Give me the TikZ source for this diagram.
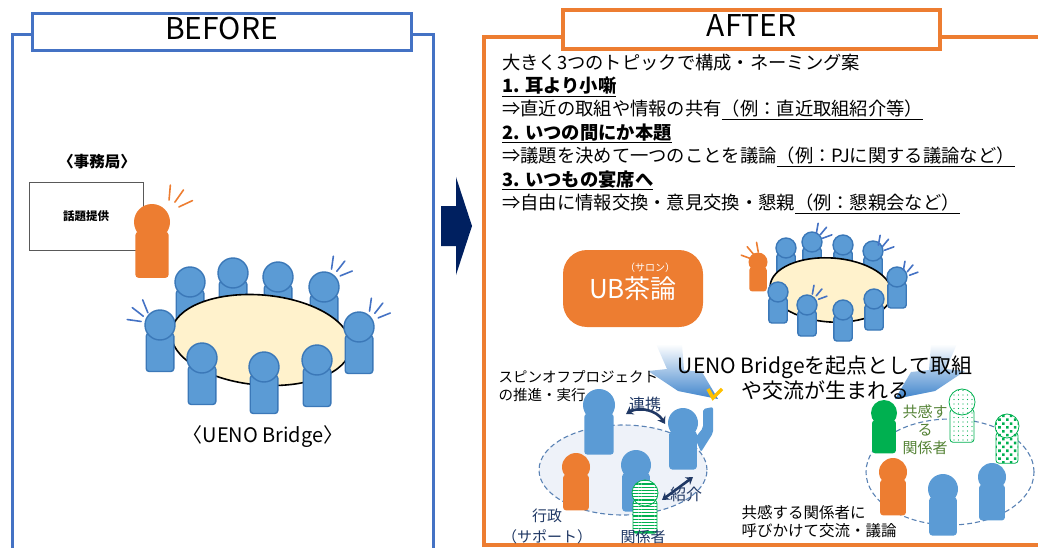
\documentclass[tikz,border=0pt]{standalone}
\usepackage{fontspec}
\setmainfont{Noto Sans CJK JP}
\usetikzlibrary{positioning,arrows.meta,shapes.geometric,calc,patterns.meta}
\definecolor{aoWaku}{HTML}{4472C4}
\definecolor{daidai}{HTML}{ED7D31}
\definecolor{hitoAo}{HTML}{5B9BD5}
\definecolor{hitoAoSen}{HTML}{3B78B8}
\definecolor{takuIro}{HTML}{FFF2CC}
\definecolor{kon}{HTML}{002060}
\definecolor{konMoji}{HTML}{203864}
\definecolor{midori}{HTML}{00B050}
\definecolor{koke}{HTML}{548235}
\definecolor{nezumi}{HTML}{595959}
\definecolor{wakuUsu}{HTML}{EEF2F9}
\definecolor{hasen}{HTML}{5A82B4}
\definecolor{kiiro}{HTML}{FFC000}
\definecolor{inazuma}{HTML}{3F84CC}
\newcommand{\moji}[2]{\fontsize{#1}{#2}\selectfont}
% person: head centre x, y and head radius
\newcommand{\hito}[4][pblue]{%
  \path[#1, rounded corners=3pt] ({#2-0.92*#4},{#3+0.55*#4}) rectangle ({#2+0.92*#4},{#3+3.1*#4});
  \path[#1] (#2,#3) circle[radius=#4];}
% three short strokes: centre x, y, mid angle, inner and outer radius
\newcommand{\kira}[6][kblue]{%
  \foreach \t in {-30,0,30}
    \draw[#1] ($(#2,#3)+({-(#4+\t)}:#5)$) -- ($(#2,#3)+({-(#4+\t)}:#6)$);}

\begin{document}
\begin{tikzpicture}[x=1pt, y=-1pt,
    mado/.style={draw, fill=white, line width=3pt, minimum height=37pt, text height=22pt,
                 text depth=7pt, font=\moji{30}{30}},
    pblue/.style={fill=hitoAo, draw=hitoAoSen, line width=1.4pt},
    pflat/.style={fill=hitoAo},
    porange/.style={fill=daidai},
    pgreen/.style={fill=midori},
    pstripe/.style={fill=white, draw=midori, line width=0.8pt,
                    postaction={pattern={Lines[angle=0,distance=3.2pt,line width=1.2pt]}, pattern color=midori}},
    pdots/.style={fill=white, draw=midori, line width=0.8pt,
                  postaction={pattern={Dots[radius=0.55pt,distance=4.5pt]}, pattern color=midori}},
    pdiam/.style={fill=white, draw=midori, line width=0.8pt,
                  postaction={pattern={Dots[radius=1.8pt,distance=5.5pt,angle=45]}, pattern color=midori}},
    kblue/.style={draw=aoWaku, line width=1.6pt, line cap=round},
    korange/.style={draw=daidai, line width=1.6pt, line cap=round},
    taku/.style={ellipse, draw, fill=takuIro, line width=1.6pt},
    list/.style={anchor=north west, inner xsep=2pt, inner ysep=2pt, text height=15pt,
                 text depth=4pt, font=\moji{18.3}{22}},
    ubbox/.style={fill=daidai, rounded corners=24pt, minimum width=140pt, minimum height=77pt,
                  text=white, font=\moji{26}{26}},
    bolt/.style={top color=white, bottom color=inazuma},
    grp/.style={ellipse, draw=hasen, line width=1.1pt, dash pattern=on 5pt off 3pt},
    tie/.style={text=konMoji, font=\moji{16}{16}},
    tiearrow/.style={draw=konMoji, line width=2.6pt,
                     {Stealth[length=7pt,width=9pt]}-{Stealth[length=7pt,width=9pt]}}]
  \useasboundingbox (0,0) rectangle (1038,548);

  % BEFORE panel
  \draw[aoWaku, line width=3pt] (12,552) -- (12,35) -- (32,35);
  \draw[aoWaku, line width=3pt] (411,35) -- (433,35) -- (433,552);
  \node[mado, draw=aoWaku, minimum width=379pt] (before) at (221.5,32.5) {BEFORE};

  % AFTER panel
  \draw[daidai, line width=3.5pt] (563,37) -- (484,37) -- (484,545) -- (1042,545);
  \draw[daidai, line width=3.5pt] (940,37) -- (1042,37);
  \node[mado, draw=daidai, line width=3.5pt, minimum width=377pt, minimum height=39pt] (after)
    at (751.5,29.5) {AFTER};

  \fill[kon] (441,206) -- (456,206) -- (456,177) -- (472,226) -- (456,275) -- (456,246)
    -- (441,246) -- cycle;

  % secretariat and the round table
  \node[font=\moji{15.5}{18}\bfseries] (jimu) at (97,162) {〈事務局〉};
  \node[draw=nezumi, line width=1pt, minimum width=114pt, minimum height=67pt,
        font=\moji{11.5}{14}\bfseries] (wadai) at (86,216.5) {話題提供};
  \hito[porange]{152}{222}{18}
  \kira[korange]{168}{212}{55}{12}{27}
  \foreach \x/\y in {190/282, 233/273, 278/277, 324/287} \hito{\x}{\y}{15};
  \node[taku, minimum width=180pt, minimum height=90pt, rotate=-5] (taku1) at (261,340) {};
  \foreach \x/\y in {160/325, 359/327, 202/358, 264/367, 317/360} \hito{\x}{\y}{15};
  \kira{152}{323}{142}{11}{25}
  \kira{330}{280}{52}{11}{24}
  \kira{368}{322}{52}{11}{24}
  \node[font=\moji{20}{20}] (ub1) at (263,437) {〈UENO Bridge〉};

  % three topics
  \node[list] (l0) at (500,52) {大きく3つのトピックで構成・ネーミング案};
  \node[list, below=0pt of l0.south west, anchor=north west] (l1) {\textbf{\underline{1. 耳より小噺}}};
  \node[list, below=0pt of l1.south west, anchor=north west] (l2) {⇒直近の取組や情報の共有\underline{（例：直近取組紹介等）}};
  \node[list, below=0pt of l2.south west, anchor=north west] (l3) {\textbf{\underline{2. いつの間にか本題}}};
  \node[list, below=0pt of l3.south west, anchor=north west] (l4) {⇒議題を決めて一つのことを議論\underline{（例：PJに関する議論など）}};
  \node[list, below=0pt of l4.south west, anchor=north west] (l5) {\textbf{\underline{3. いつもの宴席へ}}};
  \node[list, below=0pt of l5.south west, anchor=north west] (l6) {⇒自由に情報交換・意見交換・懇親\underline{（例：懇親会など）}};

  \node[ubbox] (ub) at (633,288.5) {\raisebox{-5pt}{UB茶論}};
  \node[text=white, font=\moji{10}{10}] (salon) at (650,268) {（サロン）};

  % small table
  \hito[porange]{758}{262}{9.5}
  \kira[korange]{760}{262}{130}{10}{20}
  \foreach \x/\y in {786/248, 812/242, 843/245, 873/251} \hito{\x}{\y}{10};
  \node[taku, minimum width=122pt, minimum height=64pt, rotate=-4] (taku2) at (831,290) {};
  \foreach \x/\y in {897/277, 778/292, 807/305, 843/310, 874/299} \hito{\x}{\y}{10};
  \kira{815}{241}{50}{8}{18}
  \kira{877}{253}{50}{8}{18}
  \kira{902}{278}{50}{8}{17}
  \kira{811}{302}{50}{8}{17}

  \shade[bolt] (656,344) -- (682,344) -- (684,370) -- (702,372) -- (718,399) -- (678,391)
    -- (648,371) -- (667,369) -- cycle;
  \shade[bolt] (957,344) -- (931,344) -- (929,370) -- (911,372) -- (895,399) -- (935,391)
    -- (965,371) -- (946,369) -- cycle;
  \node[align=center, font=\moji{21}{25}] (kiten) at (825,378)
    {UENO Bridgeを起点として取組\\や交流が生まれる};

  % spin-off project group
  \node[grp, fill=wakuUsu, minimum width=168pt, minimum height=90pt] (g1) at (623,470) {};
  \hito[pflat]{599}{405}{16}
  \fill[hitoAo, rounded corners=2pt] (703,409) -- (713,407) -- (713,433) -- (701,452)
    -- (695,438) -- (703,428) -- cycle;
  \hito[pflat]{683}{423}{15}
  \hito[porange]{576}{467}{14}
  \hito[pflat]{636}{465}{15}
  \hito[pstripe]{645}{493}{13}
  \draw[kiiro, line width=3.5pt] (708,389) -- (713,398) -- (722,389);
  \node[anchor=west, align=left, font=\moji{14.5}{18}] (spin) at (495,386)
    {スピンオフプロジェクト\\の推進・実行};
  \coordinate (renL) at (626,414);
  \coordinate (renR) at (665,424);
  \draw[tiearrow] (renL) to[bend left=45] (renR);
  \node[tie] (renkei) at (645,404) {連携};
  \coordinate (shoA) at (662,500);
  \coordinate (shoB) at (693,477);
  \draw[tiearrow] (shoA) -- (shoB);
  \node[tie] (shokai) at (686,494) {紹介};
  \node[align=center, text=konMoji, font=\moji{15}{21}] (gyosei) at (547,526) {行政\\（サポート）};
  \node[text=konMoji, font=\moji{15}{15}] (kankei) at (643,537) {関係者};

  % sympathisers group
  \node[grp, minimum width=168pt, minimum height=106pt] (g2) at (950,472) {};
  \hito[pgreen]{884}{413}{13}
  \hito[pdots]{962}{402}{13}
  \hito[pdiam]{1007}{426}{12}
  \hito[porange]{893}{472}{14}
  \hito[pflat]{943}{489}{15}
  \hito[pflat]{992}{477}{14}
  \node[align=center, text=koke, font=\moji{15}{18}] (kyokan) at (925,430) {共感す\\る\\関係者};
  \node[anchor=west, align=left, font=\moji{15.5}{18}] (yobi) at (738,522)
    {共感する関係者に\\呼びかけて交流・議論};
\end{tikzpicture}
\end{document}
